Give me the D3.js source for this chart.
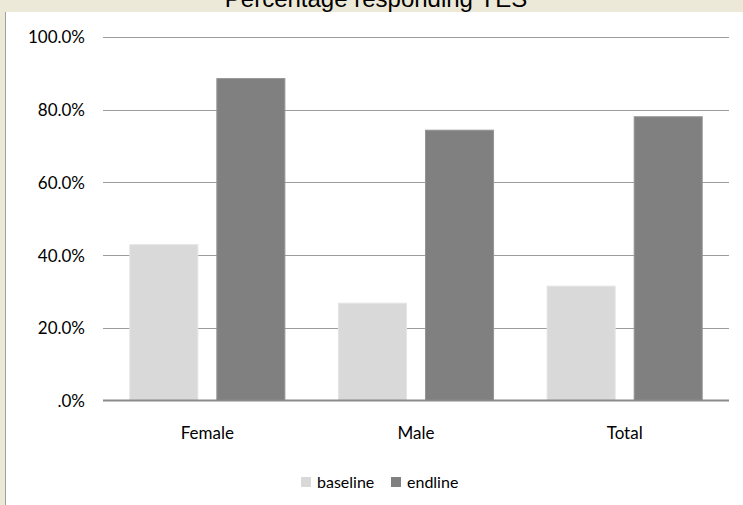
<!DOCTYPE html>
<html>
<head>
<meta charset="utf-8">
<script src="https://cdn.jsdelivr.net/npm/d3@7"></script>
<style>
  html, body { margin: 0; padding: 0; background: #ECE9D8; }
  svg { display: block; }
</style>
</head>
<body>
<svg id="chart" width="743" height="505"></svg>
<script>
// Survey results: share answering YES, before and after the programme
const categories = ["Female", "Male", "Total"];
const seriesNames = ["baseline", "endline"];
const baseline = [43.0, 26.9, 31.6];
const endline = [88.7, 74.5, 78.2];
const tickValues = [0, 20, 40, 60, 80, 100];
const tickLabels = [".0%", "20.0%", "40.0%", "60.0%", "80.0%", "100.0%"];
const seriesColors = ["#D9D9D9", "#808080"];
const seriesStrokes = ["#E4E4E4", "#959595"];
const title = "Percentage responding YES";

const W = 743, H = 505;
const svg = d3.select("#chart");
const font = "Lato, 'DejaVu Sans', sans-serif";

// window frame: beige band on top and left, white plot panel
svg.append("rect").attr("x", 0).attr("y", 0).attr("width", W).attr("height", H).attr("fill", "#ECE9D8");
svg.append("rect").attr("x", 6).attr("y", 12).attr("width", W - 6).attr("height", H - 12).attr("fill", "#FFFFFF");
svg.append("line").attr("x1", 5.5).attr("x2", 5.5).attr("y1", 12).attr("y2", H)
  .attr("stroke", "#A0A0A0").attr("stroke-width", 1);

// title, partly scrolled out of view
svg.append("text")
  .attr("x", 376).attr("y", 7)
  .attr("text-anchor", "middle")
  .attr("font-family", "'Liberation Sans', Arial, sans-serif")
  .attr("font-size", 24)
  .attr("fill", "#000")
  .text(title);
// keep the title clipped to the beige band
svg.append("rect").attr("x", 6).attr("y", 12).attr("width", W - 6).attr("height", 10).attr("fill", "#FFFFFF");

const plot = { left: 103, right: 729, top: 37, bottom: 400.5 };

const y = d3.scaleLinear().domain([0, 100]).range([plot.bottom, plot.top]);
const x0 = d3.scaleBand().domain(categories).range([plot.left, plot.right]).padding(0);
const x1 = d3.scaleBand().domain(seriesNames).range([0, x0.bandwidth()])
  .paddingInner(0.207).paddingOuter(0.302);

// horizontal gridlines
const grid = svg.append("g");
grid.selectAll("line").data(tickValues.filter(v => v > 0)).join("line")
  .attr("x1", plot.left).attr("x2", plot.right)
  .attr("y1", d => Math.round(y(d)) + 0.5).attr("y2", d => Math.round(y(d)) + 0.5)
  .attr("stroke", "#9C9C9C").attr("stroke-width", 1);

// bars
const rows = categories.map((c, i) => ({ cat: c, values: [baseline[i], endline[i]] }));
const groups = svg.append("g").selectAll("g").data(rows).join("g")
  .attr("transform", d => `translate(${x0(d.cat)},0)`);
groups.selectAll("rect")
  .data(d => d.values.map((v, j) => ({ key: seriesNames[j], v, j })))
  .join("rect")
  .attr("x", d => x1(d.key) + 0.5)
  .attr("width", x1.bandwidth() - 1)
  .attr("y", d => y(d.v) + 0.5)
  .attr("height", d => y(0) - y(d.v) - 0.5)
  .attr("fill", d => seriesColors[d.j])
  .attr("stroke", d => seriesStrokes[d.j])
  .attr("stroke-width", 1);

// baseline axis
svg.append("line")
  .attr("x1", plot.left).attr("x2", plot.right)
  .attr("y1", y(0)).attr("y2", y(0))
  .attr("stroke", "#8A8A8A").attr("stroke-width", 2);

// y axis labels
const yAxis = d3.axisLeft(y).tickValues(tickValues)
  .tickFormat((d, i) => tickLabels[i]).tickSize(0).tickPadding(0);
const yg = svg.append("g").attr("transform", "translate(85,0)").call(yAxis);
yg.select(".domain").remove();
yg.selectAll("text")
  .attr("font-family", font).attr("font-size", 17).attr("fill", "#000")
  .attr("dy", "0.35em");

// x axis labels
const xAxis = d3.axisBottom(x0).tickSize(0).tickPadding(0);
const xg = svg.append("g").attr("transform", "translate(0,439)").call(xAxis);
xg.select(".domain").remove();
xg.selectAll("text")
  .attr("font-family", font).attr("font-size", 17).attr("fill", "#000")
  .attr("dy", 0);

// legend
const legendX = [301, 391];
const legend = svg.append("g");
const items = legend.selectAll("g").data(seriesNames).join("g")
  .attr("transform", (d, i) => `translate(${legendX[i]},477)`);
items.append("rect").attr("width", 10).attr("height", 10)
  .attr("fill", (d, i) => seriesColors[i]);
items.append("text")
  .attr("x", 16).attr("y", 11)
  .attr("font-family", font).attr("font-size", 16).attr("fill", "#000")
  .text(d => d);
</script>
</body>
</html>
